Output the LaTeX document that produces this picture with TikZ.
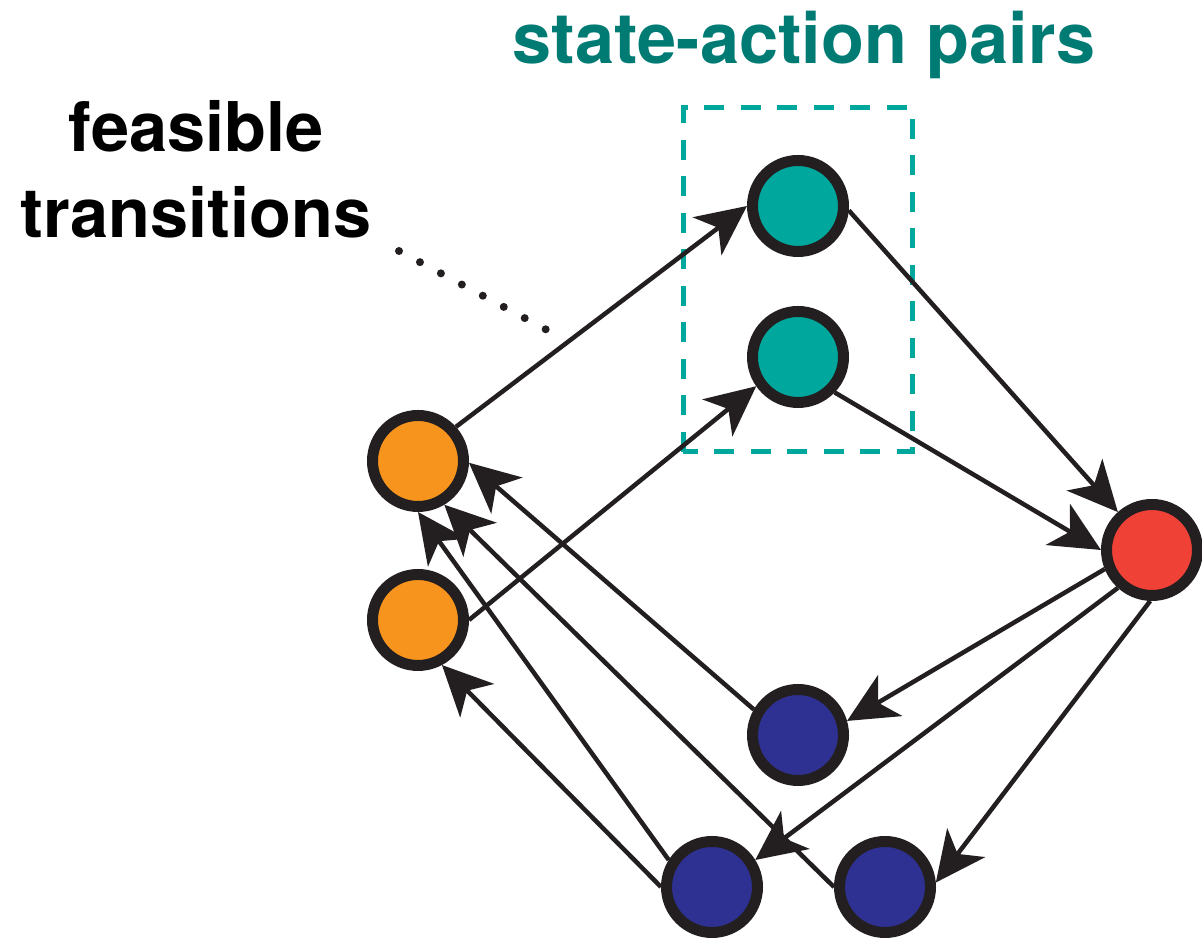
\documentclass[tikz,border=0pt]{standalone}
\usepackage{fontspec}
\setmainfont{TeX Gyre Heros}
\usepackage{xcolor}
\usepackage{tikz}
\usetikzlibrary{calc,arrows.meta}

\definecolor{ink}{HTML}{231F20}
\definecolor{orng}{HTML}{F7941D}
\definecolor{teal1}{HTML}{00A79D}
\definecolor{tealtxt}{HTML}{007B74}
\definecolor{redst}{HTML}{EF4136}
\definecolor{bluest}{HTML}{2E3192}

\begin{document}
\begin{tikzpicture}[
    every node/.style={font=\bfseries\fontsize{39}{49}\selectfont},
    st/.style={circle, draw=ink, line width=0.22cm, minimum size=1.82cm,
               inner sep=0pt, outer sep=0.11cm},
    arr/.style={-{Stealth[length=1.0cm, width=0.95cm, inset=0.28cm]},
                line width=0.09cm, draw=ink, fill=ink},
    grp/.style={draw=teal1, line width=0.1cm, dash pattern=on 0.4cm off 0.33cm},
    dots/.style={draw=ink, line width=0.16cm, line cap=round,
                 dash pattern=on 0pt off 0.475cm}
]
\useasboundingbox (0,0) rectangle (24.04,18.8);
\node[st, fill=orng]   (s1) at (8.36,9.58)  {};
\node[st, fill=orng]   (s2) at (8.36,6.40)  {};
\node[st, fill=teal1]  (q1) at (15.96,14.68) {};
\node[st, fill=teal1]  (q2) at (15.96,11.66) {};
\node[st, fill=redst]  (g)  at (23.04,7.80)  {};
\node[st, fill=bluest] (b1) at (15.96,4.10)  {};
\node[st, fill=bluest] (b2) at (14.24,1.06)  {};
\node[st, fill=bluest] (b3) at (17.70,1.06)  {};
\draw[grp] (13.66,9.76) rectangle (18.24,16.64);
\node[text=tealtxt, anchor=base, font=\bfseries\fontsize{40}{48}\selectfont]
    (pairs) at (16.08,17.52) {state-action pairs};
\node[align=center, anchor=base] (feas) at (3.92,14.04) {feasible\\transitions};
\coordinate (dotA) at (7.98,13.78);
\coordinate (dotB) at (10.94,12.2);
\draw[dots] (dotA) -- (dotB);
\draw[arr] (s1.42)  -- (q1.180);
\draw[arr] (s2.0)   -- (q2.215);
\draw[arr] (q1.-5)  -- (g.132);
\draw[arr] (q2.-44) -- (g.180);
\draw[arr] (g.202)  -- (b1.16);
\draw[arr] (g.228)  -- (b2.32);
\draw[arr] (g.268)  -- (b3.5);
\draw[arr] (b1.150) -- (s1.-2);
\draw[arr] (b3.180) -- (s1.301);
\draw[arr] (b2.148) -- (s1.270);
\draw[arr] (b2.180) -- (s2.298);
\end{tikzpicture}
\end{document}
